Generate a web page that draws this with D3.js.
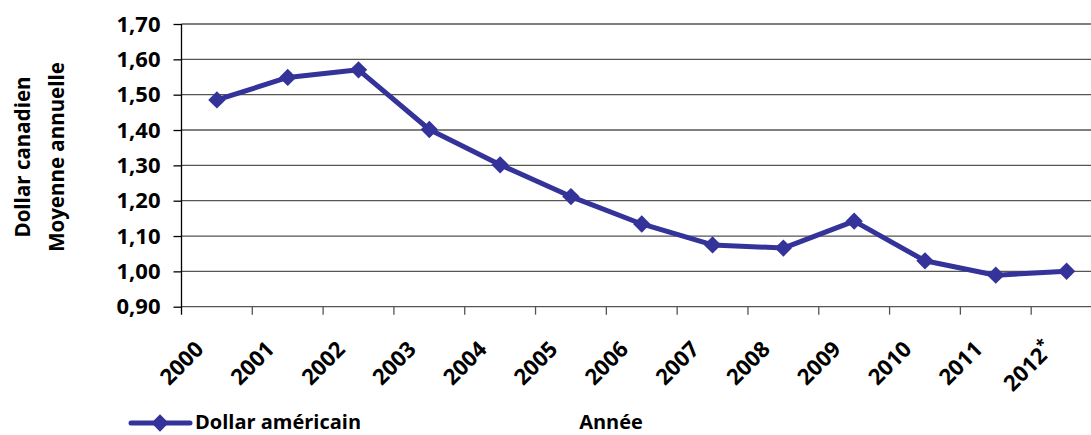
<!DOCTYPE html>
<html><head><meta charset="utf-8">
<script src="https://cdn.jsdelivr.net/npm/d3@7"></script>
<style>
html,body{margin:0;padding:0;background:#fff;}
svg{display:block;font-family:"Open Sans",sans-serif;font-weight:bold;}
</style></head>
<body>
<script>
const years = ["2000","2001","2002","2003","2004","2005","2006","2007","2008","2009","2010","2011","2012*"];
const usd = [1.4851,1.5488,1.5704,1.4015,1.3015,1.2116,1.1341,1.0748,1.0660,1.1420,1.0299,0.9891,1.0004];
const yTicks = [0.9,1.0,1.1,1.2,1.3,1.4,1.5,1.6,1.7];
const seriesName = "Dollar américain";
const xTitle = "Année";
const yTitle = ["Dollar canadien","Moyenne annuelle"];

const W = 1091, H = 435;
const svg = d3.select("body").append("svg").attr("width", W).attr("height", H);
const pL = 181.5, pR = 1102, pT = 24, pB = 306.7;
const x = d3.scaleBand().domain(years).range([pL, pR]).padding(0);
const y = d3.scaleLinear().domain([0.9, 1.7]).range([pB, pT]);
const fmt = v => d3.format(".2f")(v).replace(".", ",");
const col = "#333399";

// gridlines
svg.append("g").selectAll("line").data(yTicks).join("line")
  .attr("x1", pL).attr("x2", pR)
  .attr("y1", d => y(d)).attr("y2", d => y(d))
  .attr("stroke", "#555").attr("stroke-width", 1.3);

// y axis
const ya = svg.append("g").attr("transform", `translate(${pL},0)`)
  .call(d3.axisLeft(y).tickValues(yTicks).tickFormat(fmt).tickSize(8).tickPadding(13));
ya.select(".domain").attr("stroke", "#000").attr("stroke-width", 1.3)
  .attr("d", `M0,${pT}V${pB + 8}`);
ya.selectAll(".tick line").attr("stroke", "#000").attr("stroke-width", 1.3);
ya.selectAll("text").attr("font-family", "Open Sans").attr("font-weight", "bold")
  .attr("font-size", 22).attr("fill", "#000");

// x axis ticks at band boundaries
const bounds = years.map(d => x(d)).concat([pR]);
svg.append("g").selectAll("line").data(bounds.slice(1)).join("line")
  .attr("x1", d => d).attr("x2", d => d).attr("y1", pB).attr("y2", pB + 8)
  .attr("stroke", "#555").attr("stroke-width", 1.3);

// x labels
svg.append("g").selectAll("text").data(years).join("text")
  .attr("transform", d => `translate(${x(d) + x.bandwidth()/2 - 12},${pB + 44}) rotate(-45)`)
  .attr("text-anchor", "end")
  .attr("font-size", 22)
  .each(function(d){
    const t = d3.select(this);
    if (d.endsWith("*")) {
      t.append("tspan").text(d.slice(0, -1));
      t.append("tspan").attr("dy", -8).attr("font-size", 16).text("*");
    } else t.text(d);
  });

// line
const pts = years.map((d, i) => [x(d) + x.bandwidth()/2, y(usd[i])]);
svg.append("path").attr("d", d3.line()(pts)).attr("fill", "none")
  .attr("stroke", col).attr("stroke-width", 5).attr("stroke-linejoin", "round");
svg.append("g").selectAll("path").data(pts).join("path")
  .attr("transform", d => `translate(${d[0]},${d[1]}) rotate(45)`)
  .attr("d", d3.symbol().type(d3.symbolSquare).size(150)())
  .attr("fill", col);

// y title
yTitle.forEach((t, i) => {
  svg.append("text").attr("transform", `translate(${30 + i * 34},157) rotate(-90)`)
    .attr("text-anchor", "middle").attr("font-size", 20.5).text(t);
});

// x title
svg.append("text").attr("x", 611).attr("y", 429).attr("text-anchor", "middle")
  .attr("font-size", 20).text(xTitle);

// legend
svg.append("line").attr("x1", 131).attr("x2", 190).attr("y1", 423).attr("y2", 423)
  .attr("stroke", col).attr("stroke-width", 5).attr("stroke-linecap", "round");
svg.append("path").attr("transform", "translate(160,423) rotate(45)")
  .attr("d", d3.symbol().type(d3.symbolSquare).size(150)()).attr("fill", col);
svg.append("text").attr("x", 195).attr("y", 429).attr("font-size", 20).text(seriesName);
</script>
</body></html>
